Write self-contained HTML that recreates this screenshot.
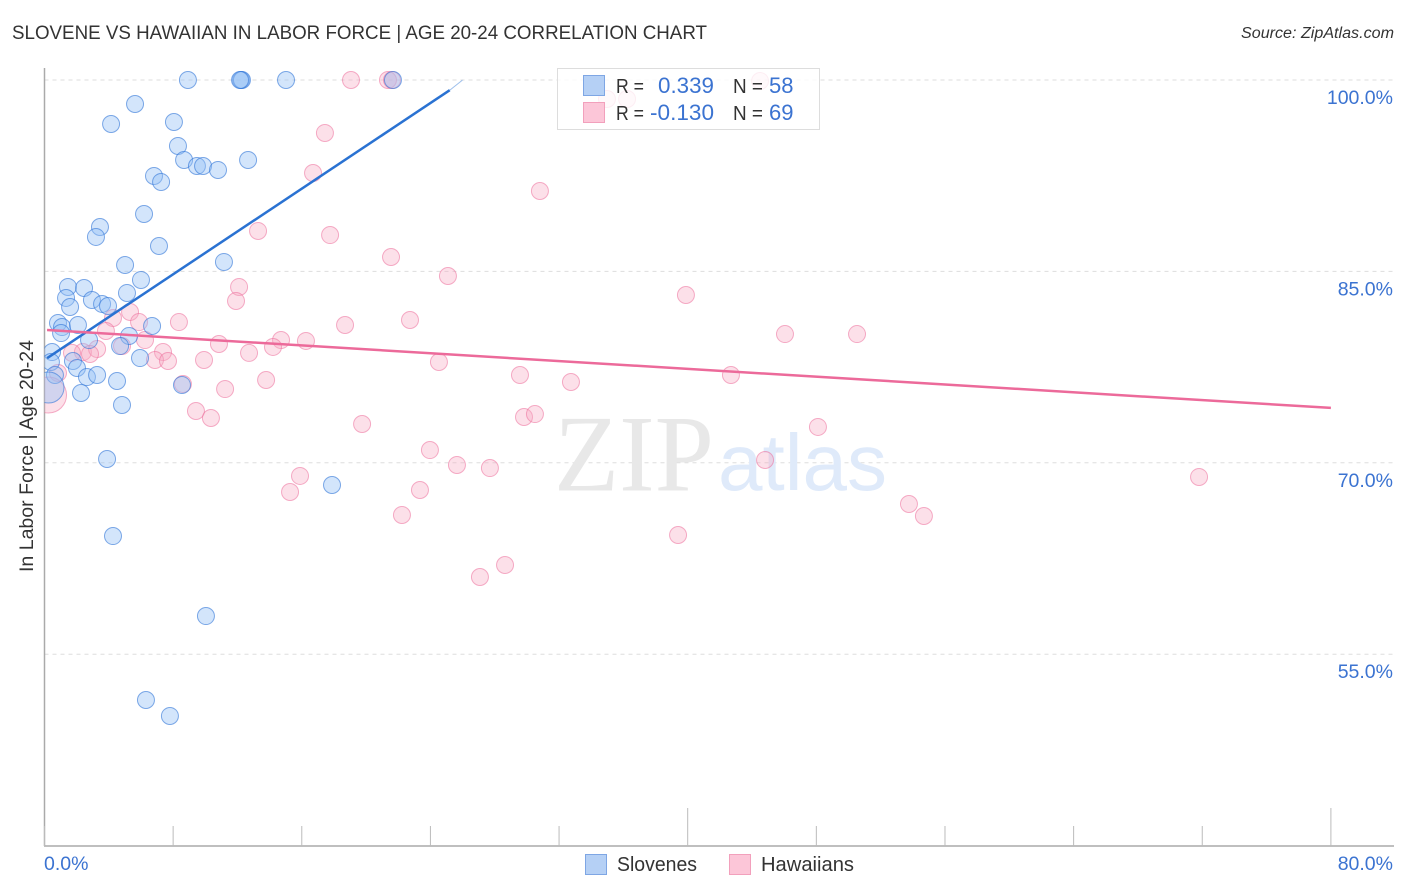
<!DOCTYPE html>
<html lang="en">
<head>
<meta charset="utf-8">
<title>Slovene vs Hawaiian In Labor Force | Age 20-24 Correlation Chart</title>
<style>
html,body{margin:0;padding:0;background:#fff;}
svg{display:block;font-family:"Liberation Sans",sans-serif;}
</style>
</head>
<body>
<svg id="chart" xmlns="http://www.w3.org/2000/svg" width="1406" height="892" viewBox="0 0 1406 892">
  <defs>
    <clipPath id="plot-clip"><rect x="44.5" y="60" width="1350" height="786"/></clipPath>
  </defs>
  <rect x="0" y="0" width="1406" height="892" fill="#ffffff"/>
  <text x="12" y="39" font-size="19" fill="#333333" textLength="695" lengthAdjust="spacingAndGlyphs">SLOVENE VS HAWAIIAN IN LABOR FORCE | AGE 20-24 CORRELATION CHART</text>
  <text x="1241" y="38" font-size="15.5" font-style="italic" fill="#333333" textLength="153" lengthAdjust="spacingAndGlyphs">Source: ZipAtlas.com</text>
  <text transform="translate(33,456) rotate(-90)" font-size="19" fill="#333333" text-anchor="middle" textLength="232" lengthAdjust="spacingAndGlyphs">In Labor Force | Age 20-24</text>
  <g id="grid"></g>
  <g>
    <text x="554" y="490.5" font-family="'Liberation Serif',serif" font-size="109" fill="#e8e8e8" textLength="160" lengthAdjust="spacingAndGlyphs">ZIP</text>
    <text x="718" y="490" font-size="80" fill="#dfeafa" textLength="169" lengthAdjust="spacingAndGlyphs">atlas</text>
  </g>
  <g id="axes"></g>
  <g id="marks-hawaiians" clip-path="url(#plot-clip)"></g>
  <g id="marks-slovenes" clip-path="url(#plot-clip)"></g>
  <g id="trends"></g>
  <g id="tick-labels"></g>
  <g>
    <rect x="557.5" y="68.5" width="262" height="61" fill="#ffffff" fill-opacity="0.8" stroke="#dddddd" stroke-width="1"/>
    <rect x="583.5" y="75.5" width="21" height="20" fill="#b5d0f5" stroke="#7ea6e4" stroke-width="1"/>
    <rect x="583.5" y="102.5" width="21" height="20" fill="#fcc6d8" stroke="#f2a0bc" stroke-width="1"/>
    <text x="616" y="93" font-size="20" fill="#333333" textLength="28" lengthAdjust="spacingAndGlyphs">R =</text>
    <text x="658" y="93" font-size="22" fill="#3b73d1" textLength="56" lengthAdjust="spacingAndGlyphs">0.339</text>
    <text x="733" y="93" font-size="20" fill="#333333" textLength="30" lengthAdjust="spacingAndGlyphs">N =</text>
    <text x="769" y="93" font-size="22" fill="#3b73d1">58</text>
    <text x="616" y="120" font-size="20" fill="#333333" textLength="28" lengthAdjust="spacingAndGlyphs">R =</text>
    <text x="650" y="120" font-size="22" fill="#3b73d1" textLength="64" lengthAdjust="spacingAndGlyphs">-0.130</text>
    <text x="733" y="120" font-size="20" fill="#333333" textLength="30" lengthAdjust="spacingAndGlyphs">N =</text>
    <text x="769" y="120" font-size="22" fill="#3b73d1">69</text>
  </g>
  <g>
    <rect x="585.5" y="854.5" width="21" height="20" fill="#b5d0f5" stroke="#7ea6e4" stroke-width="1"/>
    <text x="617" y="871" font-size="20" fill="#333333" textLength="80" lengthAdjust="spacingAndGlyphs">Slovenes</text>
    <rect x="729.5" y="854.5" width="21" height="20" fill="#fcc6d8" stroke="#f2a0bc" stroke-width="1"/>
    <text x="761" y="871" font-size="20" fill="#333333" textLength="93" lengthAdjust="spacingAndGlyphs">Hawaiians</text>
  </g>
</svg>
<script>
const yTickValues = [100, 85, 70, 55];
const yTickLabels = ["100.0%", "85.0%", "70.0%", "55.0%"];
const xTickValues = [0, 8, 16, 24, 32, 40, 48, 56, 64, 72, 80];
const xMajorTicks = [40, 80];
const xEndLabels = ["0.0%", "80.0%"];

const sloveneX = [8.92,12.22,12.28,12.16,15.02,21.67,5.63,4.14,8.05,8.30,8.68,9.48,9.86,10.79,12.66,6.81,7.25,6.19,3.45,3.20,7.12,5.01,11.16,6.00,1.46,2.46,1.34,2.95,1.59,3.58,3.95,5.13,0.84,1.09,2.08,1.03,6.69,5.26,2.77,4.70,0.47,5.94,1.77,0.40,2.02,0.65,2.64,3.27,4.51,2.27,4.82,8.55,3.89,17.88,4.26,10.04,6.31,7.80,0.25];
const sloveneY = [100,100,100,100,100,100,98.12,96.55,96.71,94.83,93.73,93.26,93.26,92.95,93.73,92.48,92.01,89.50,88.48,87.70,86.99,85.50,85.74,84.33,83.78,83.70,82.92,82.76,82.21,82.45,82.29,83.31,80.96,80.64,80.80,80.17,80.72,79.94,79.62,79.15,78.68,78.21,77.98,77.90,77.43,76.88,76.72,76.88,76.41,75.47,74.53,76.10,70.30,68.26,64.26,57.99,51.41,50.16,75.90];

const hawaiianX = [19.06,21.36,21.61,44.50,34.98,36.23,17.44,16.70,30.81,13.28,17.76,21.55,25.09,12.10,11.91,39.89,22.73,18.69,8.36,5.32,4.26,5.88,3.82,6.25,46.05,50.53,14.71,16.26,10.85,14.21,4.82,7.37,12.72,2.39,3.27,2.83,1.71,6.87,7.68,9.92,24.53,29.57,42.69,32.74,13.78,0.84,8.61,11.23,9.42,10.35,29.82,30.50,19.75,48.10,23.97,44.81,25.65,27.70,15.89,71.80,15.27,23.35,53.76,54.69,22.23,39.40,28.64,27.08,0.25];
const hawaiianY = [100,100,100,99.92,98.51,98.51,95.85,92.71,91.30,88.17,87.85,86.13,84.64,83.78,82.68,83.15,81.19,80.80,81.03,81.82,81.35,81.03,80.33,79.62,80.09,80.09,79.62,79.55,79.31,79.08,79.15,78.68,78.61,78.68,78.92,78.53,78.61,78.06,77.98,78.06,77.90,76.88,76.88,76.33,76.49,77.04,76.18,75.78,74.06,73.51,73.59,73.82,73.04,72.81,71.00,70.22,69.83,69.59,68.97,68.89,67.71,67.87,66.77,65.83,65.91,64.34,61.99,61.05,75.31];

const sloveneTrendX = [0.16, 25.2];
const sloveneTrendY = [78.2, 99.2];
const sloveneTrendTailX = [25.2, 26.0];
const sloveneTrendTailY = [99.2, 100];
const hawaiianTrendX = [0.16, 80];
const hawaiianTrendY = [80.41, 74.3];

const NS = 'http://www.w3.org/2000/svg';
function xScale(v) { return 44.5 + v * 16.08; }
function yScale(v) { return 80 + (100 - v) * 12.76; }

function make(tag, attrs, parent) {
  const el = document.createElementNS(NS, tag);
  for (const k in attrs) el.setAttribute(k, attrs[k]);
  parent.appendChild(el);
  return el;
}

const grid = document.getElementById('grid');
const axes = document.getElementById('axes');
const tickLabels = document.getElementById('tick-labels');

yTickValues.forEach(function (v, i) {
  const line = make('line', {x1: 44.5, x2: 1393, y1: yScale(v), y2: yScale(v), stroke: '#dddddd', 'stroke-width': 1, 'stroke-dasharray': '4 4'}, grid);
  
  
  const label = make('text', {x: 1393, y: yScale(v) + 24, 'font-size': 19.5, fill: '#3b73d1', 'text-anchor': 'end'}, tickLabels);
  label.textContent = yTickLabels[i];
  
  
});

const yAxis = make('line', {x1: 44.5, x2: 44.5, y1: 68, y2: 846, stroke: '#aaaaaa', 'stroke-width': 1.5}, axes);


const xAxis = make('line', {x1: 44, x2: 1394, y1: 846, y2: 846, stroke: '#aaaaaa', 'stroke-width': 1.5}, axes);



xTickValues.forEach(function (v) {
  const top = xMajorTicks.indexOf(v) >= 0 ? 808 : 826;
  const tick = make('line', {x1: xScale(v), x2: xScale(v), y1: top, y2: 846, stroke: '#bbbbbb', 'stroke-width': 1}, axes);
  
  
});

const xLabelLeft = make('text', {x: 44, y: 870, 'font-size': 19.5, fill: '#3b73d1'}, tickLabels);
xLabelLeft.textContent = xEndLabels[0];


const xLabelRight = make('text', {x: 1393, y: 870, 'font-size': 19.5, fill: '#3b73d1', 'text-anchor': 'end'}, tickLabels);
xLabelRight.textContent = xEndLabels[1];



const POINT_R = 8.5;
const LARGE_SLOVENE_R = 15.5;
const LARGE_HAWAIIAN_R = 18;

const hGroup = document.getElementById('marks-hawaiians');
hawaiianX.forEach(function (v, i) {
  const r = i === hawaiianX.length - 1 ? LARGE_HAWAIIAN_R : POINT_R;
  const c = make('circle', {cx: xScale(v), cy: yScale(hawaiianY[i]), r: r, fill: 'rgba(248,170,195,0.36)', stroke: 'rgba(236,110,155,0.55)', 'stroke-width': 1}, hGroup);
  
  
});

const sGroup = document.getElementById('marks-slovenes');
sloveneX.forEach(function (v, i) {
  const r = i === sloveneX.length - 1 ? LARGE_SLOVENE_R : POINT_R;
  const c = make('circle', {cx: xScale(v), cy: yScale(sloveneY[i]), r: r, fill: 'rgba(150,192,245,0.42)', stroke: 'rgba(45,115,215,0.6)', 'stroke-width': 1}, sGroup);
  
  
});

const trends = document.getElementById('trends');
const sTrend = make('line', {x1: xScale(sloveneTrendX[0]), y1: yScale(sloveneTrendY[0]), x2: xScale(sloveneTrendX[1]), y2: yScale(sloveneTrendY[1]), stroke: '#2a72d2', 'stroke-width': 2.5}, trends);


const sTail = make('line', {x1: xScale(sloveneTrendTailX[0]), y1: yScale(sloveneTrendTailY[0]), x2: xScale(sloveneTrendTailX[1]), y2: yScale(sloveneTrendTailY[1]), stroke: '#9dbfeb', 'stroke-width': 1}, trends);


const hTrend = make('line', {x1: xScale(hawaiianTrendX[0]), y1: yScale(hawaiianTrendY[0]), x2: xScale(hawaiianTrendX[1]), y2: yScale(hawaiianTrendY[1]), stroke: '#ec6a9a', 'stroke-width': 2.5}, trends);


</script>
</body>
</html>
